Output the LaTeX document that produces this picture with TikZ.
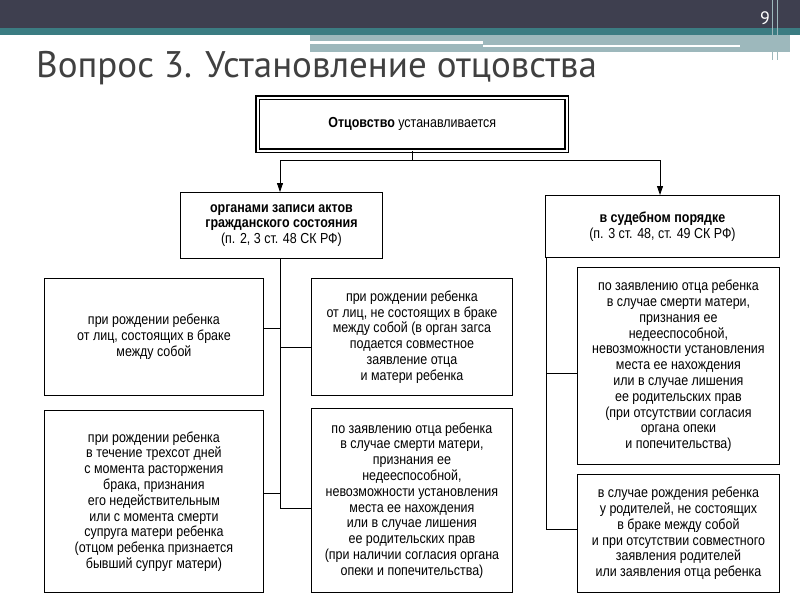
\documentclass[tikz,border=0pt]{standalone}
\usepackage{fontspec}
\setmainfont[FakeStretch=0.86]{Liberation Sans}
\newfontfamily\titlefont{PT Sans}
\usetikzlibrary{arrows.meta}
\definecolor{darkbar}{HTML}{3E3F4F}
\definecolor{tealbar}{HTML}{3B7C82}
\definecolor{lteal}{HTML}{9DB8BC}
\definecolor{titlegray}{HTML}{404040}
\tikzset{
 box/.style={draw,line width=0.9pt,align=center,inner sep=2pt,font=\fontsize{14.5}{15.8}\selectfont,anchor=north west},
 conn/.style={line width=0.8pt},
 arr/.style={line width=0.8pt,-{Triangle[length=9pt,width=6pt]}}
}
\begin{document}
\begin{tikzpicture}[x=1pt,y=-1pt]
\useasboundingbox (0,0) rectangle (800,600);
\fill[white] (0,0) rectangle (800,600);
% header
\fill[darkbar] (0,0) rectangle (800,28);
\fill[tealbar] (0,28) rectangle (800,35);
\fill[lteal] (310,35) rectangle (790,52);
\fill[white] (310,41) rectangle (483,44);
\fill[white] (483,45) rectangle (740,47);
\draw[lteal,line width=1pt] (772,0) -- (772,60);
\draw[lteal,line width=1pt] (777,0) -- (777,60);
\node[text=white,font=\titlefont\fontsize{18}{18}\selectfont] (num) at (765,18) {9};
\node[anchor=base west,text=titlegray,font=\titlefont\fontsize{37}{37}\selectfont,inner sep=0] (title) at (36,77) {Вопрос 3. Установление отцовства};
% boxes
\node[box,minimum width=309pt,minimum height=53pt,double,double distance=2pt,line width=1.4pt] (top) at (257,97) {\textbf{Отцовство} устанавливается};
\node[box,minimum width=202pt,minimum height=66pt] (L1) at (180,192) {\textbf{органами записи актов}\\\textbf{гражданского состояния}\\(п. 2, 3 ст. 48 СК РФ)};
\node[box,minimum width=234pt,minimum height=62pt] (R1) at (545,195) {\textbf{в судебном порядке}\\(п. 3 ст. 48, ст. 49 СК РФ)};
\node[box,minimum width=219pt,minimum height=117pt] (LL1) at (44,278) {при рождении ребенка\\от лиц, состоящих в браке\\между собой};
\node[box,minimum width=219pt,minimum height=182pt] (LL2) at (44,410) {при рождении ребенка\\в течение трехсот дней\\с момента расторжения\\брака, признания\\его недействительным\\или с момента смерти\\супруга матери ребенка\\(отцом ребенка признается\\бывший супруг матери)};
\node[box,minimum width=201pt,minimum height=117pt] (LR1) at (311,278) {при рождении ребенка\\от лиц, не состоящих в браке\\между собой (в орган загса\\подается совместное\\заявление отца\\и матери ребенка};
\node[box,minimum width=201pt,minimum height=184pt] (LR2) at (311,408) {по заявлению отца ребенка\\в случае смерти матери,\\признания ее\\недееспособной,\\невозможности установления\\места ее нахождения\\или в случае лишения\\ее родительских прав\\(при наличии согласия органа\\опеки и попечительства)};
\node[box,minimum width=202pt,minimum height=197pt] (R2) at (577,267) {по заявлению отца ребенка\\в случае смерти матери,\\признания ее\\недееспособной,\\невозможности установления\\места ее нахождения\\или в случае лишения\\ее родительских прав\\(при отсутствии согласия\\органа опеки\\и попечительства)};
\node[box,minimum width=202pt,minimum height=118pt] (R3) at (577,474) {в случае рождения ребенка\\у родителей, не состоящих\\в браке между собой\\и при отсутствии совместного\\заявления родителей\\или заявления отца ребенка};
% connectors
\coordinate (hl) at (280,160);
\coordinate (hr) at (660,160);
\draw[conn] (top.south) -- (top.south |- hl);
\draw[conn] (hl) -- (hr);
\draw[arr] (hl) -- (L1.north -| hl);
\draw[arr] (hr) -- (R1.north -| hr);
\coordinate (lv) at (280,508);
\draw[conn] (L1.south -| lv) -- (lv);
\draw[conn] (280,328) -- (LL1.east |- 0,328);
\draw[conn] (280,493) -- (LL2.east |- 0,493);
\draw[conn] (280,347) -- (LR1.west |- 0,347);
\draw[conn] (lv) -- (LR2.west |- lv);
\coordinate (rv) at (546,529);
\draw[conn] (R1.south west) ++(1,0) -- (rv);
\draw[conn] (546,373) -- (R2.west |- 0,373);
\draw[conn] (rv) -- (R3.west |- rv);
\end{tikzpicture}
\end{document}
